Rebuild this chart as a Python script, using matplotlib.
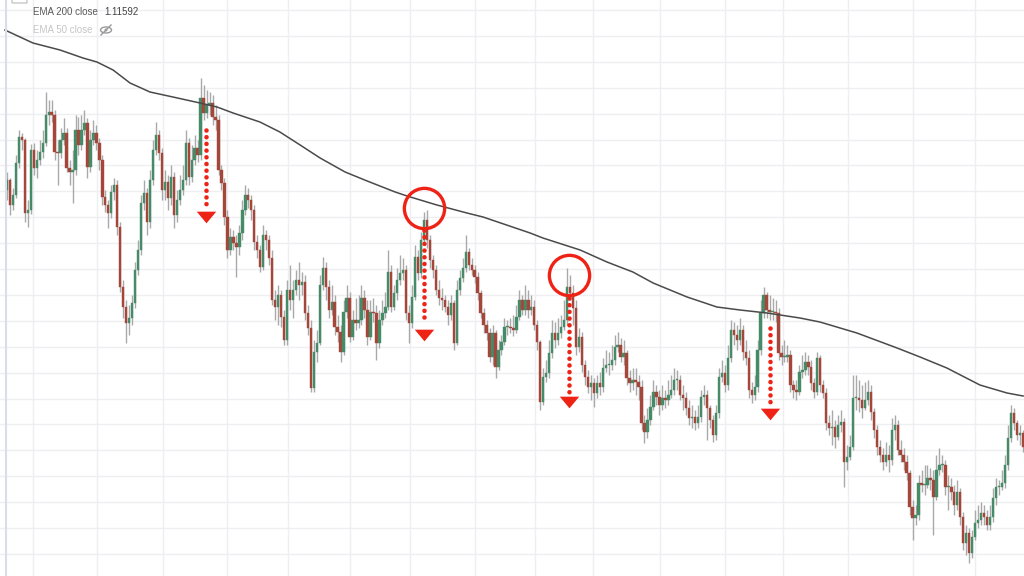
import matplotlib
matplotlib.use("Agg")
import matplotlib.pyplot as plt
from matplotlib.lines import Line2D
from matplotlib.patches import Ellipse, FancyBboxPatch
from matplotlib.transforms import IdentityTransform
import numpy as np

# daily candles, each opens at the previous close
first_open = 1.1365
closes = [
    1.1375, 1.1350, 1.1360, 1.1392, 1.1418, 1.1415, 1.1342, 1.1345, 1.1405, 1.1387,
    1.1395, 1.1403, 1.1412, 1.1440, 1.1443, 1.1440, 1.1403, 1.1402, 1.1415, 1.1422,
    1.1387, 1.1383, 1.1385, 1.1425, 1.1410, 1.1425, 1.1432, 1.1388, 1.1415, 1.1422,
    1.1412, 1.1395, 1.1358, 1.1350, 1.1342, 1.1363, 1.1370, 1.1328, 1.1268, 1.1248,
    1.1232, 1.1237, 1.1252, 1.1285, 1.1305, 1.1352, 1.1362, 1.1333, 1.1375, 1.1405,
    1.1420, 1.1402, 1.1365, 1.1373, 1.1357, 1.1378, 1.1340, 1.1355, 1.1365, 1.1375,
    1.1412, 1.1378, 1.1395, 1.1407, 1.1400, 1.1457, 1.1442, 1.1450, 1.1452, 1.1438,
    1.1435, 1.1385, 1.1372, 1.1338, 1.1305, 1.1318, 1.1312, 1.1308, 1.1322, 1.1345,
    1.1360, 1.1355, 1.1345, 1.1313, 1.1305, 1.1288, 1.1320, 1.1315, 1.1297, 1.1255,
    1.1248, 1.1260, 1.1238, 1.1215, 1.1265, 1.1255, 1.1265, 1.1275, 1.1270, 1.1273,
    1.1242, 1.1227, 1.1167, 1.1203, 1.1212, 1.1270, 1.1287, 1.1268, 1.1245, 1.1253,
    1.1228, 1.1223, 1.1203, 1.1243, 1.1257, 1.1218, 1.1235, 1.1232, 1.1235, 1.1257,
    1.1245, 1.1218, 1.1243, 1.1242, 1.1212, 1.1235, 1.1242, 1.1248, 1.1283, 1.1248,
    1.1262, 1.1275, 1.1282, 1.1285, 1.1242, 1.1232, 1.1258, 1.1298, 1.1282, 1.1315,
    1.1335, 1.1315, 1.1295, 1.1285, 1.1265, 1.1257, 1.1255, 1.1248, 1.1240, 1.1252,
    1.1212, 1.1265, 1.1277, 1.1287, 1.1303, 1.1290, 1.1285, 1.1278, 1.1262, 1.1242,
    1.1230, 1.1222, 1.1198, 1.1222, 1.1188, 1.1205, 1.1213, 1.1228, 1.1228, 1.1227,
    1.1225, 1.1238, 1.1255, 1.1245, 1.1255, 1.1245, 1.1248, 1.1230, 1.1213, 1.1153,
    1.1178, 1.1182, 1.1202, 1.1222, 1.1215, 1.1222, 1.1228, 1.1235, 1.1268, 1.1262,
    1.1247, 1.1208, 1.1218, 1.1190, 1.1178, 1.1168, 1.1172, 1.1162, 1.1172, 1.1168,
    1.1187, 1.1190, 1.1190, 1.1195, 1.1208, 1.1210, 1.1198, 1.1202, 1.1177, 1.1172,
    1.1175, 1.1173, 1.1168, 1.1132, 1.1123, 1.1135, 1.1148, 1.1163, 1.1158, 1.1150,
    1.1157, 1.1155, 1.1160, 1.1165, 1.1175, 1.1175, 1.1160, 1.1157, 1.1147, 1.1137,
    1.1138, 1.1132, 1.1138, 1.1158, 1.1160, 1.1147, 1.1135, 1.1120, 1.1142, 1.1178,
    1.1182, 1.1170, 1.1197, 1.1225, 1.1220, 1.1215, 1.1225, 1.1203, 1.1197, 1.1165,
    1.1160, 1.1168, 1.1205, 1.1242, 1.1260, 1.1245, 1.1243, 1.1243, 1.1242, 1.1202,
    1.1198, 1.1198, 1.1200, 1.1170, 1.1165, 1.1163, 1.1183, 1.1185, 1.1193, 1.1188,
    1.1172, 1.1163, 1.1197, 1.1170, 1.1162, 1.1132, 1.1127, 1.1128, 1.1118, 1.1130,
    1.1133, 1.1093, 1.1098, 1.1108, 1.1157, 1.1157, 1.1155, 1.1147, 1.1155, 1.1163,
    1.1143, 1.1125, 1.1108, 1.1100, 1.1093, 1.1100, 1.1095, 1.1125, 1.1130, 1.1105,
    1.1100, 1.1093, 1.1082, 1.1048, 1.1037, 1.1040, 1.1072, 1.1070, 1.1070, 1.1077,
    1.1075, 1.1058, 1.1085, 1.1090, 1.1090, 1.1068, 1.1068, 1.1063, 1.1050, 1.1063,
    1.1038, 1.1012, 1.1022, 1.1002, 1.1018, 1.1032, 1.1035, 1.1042, 1.1038, 1.1030,
    1.1038, 1.1057, 1.1068, 1.1068, 1.1072, 1.1090, 1.1117, 1.1142, 1.1132, 1.1120,
    1.1122, 1.1108,
]
highs = [
    1.1383, 1.1377, 1.1367, 1.1400, 1.1425, 1.1422, 1.1417, 1.1355, 1.1411, 1.1412,
    1.1405, 1.1415, 1.1425, 1.1463, 1.1455, 1.1455, 1.1445, 1.1415, 1.1427, 1.1437,
    1.1427, 1.1395, 1.1405, 1.1440, 1.1438, 1.1440, 1.1445, 1.1437, 1.1425, 1.1435,
    1.1430, 1.1417, 1.1400, 1.1365, 1.1355, 1.1370, 1.1377, 1.1375, 1.1333, 1.1275,
    1.1255, 1.1250, 1.1260, 1.1293, 1.1315, 1.1360, 1.1375, 1.1367, 1.1385, 1.1415,
    1.1433, 1.1425, 1.1407, 1.1385, 1.1380, 1.1390, 1.1383, 1.1365, 1.1380, 1.1390,
    1.1425, 1.1417, 1.1410, 1.1420, 1.1415, 1.1477, 1.1470, 1.1465, 1.1463, 1.1460,
    1.1450, 1.1440, 1.1390, 1.1377, 1.1345, 1.1327, 1.1325, 1.1320, 1.1330, 1.1355,
    1.1370, 1.1367, 1.1360, 1.1350, 1.1320, 1.1310, 1.1330, 1.1325, 1.1320, 1.1305,
    1.1265, 1.1270, 1.1265, 1.1245, 1.1275, 1.1290, 1.1275, 1.1285, 1.1293, 1.1283,
    1.1280, 1.1250, 1.1235, 1.1215, 1.1225, 1.1280, 1.1298, 1.1293, 1.1275, 1.1270,
    1.1260, 1.1240, 1.1230, 1.1255, 1.1270, 1.1263, 1.1245, 1.1257, 1.1260, 1.1270,
    1.1265, 1.1255, 1.1255, 1.1257, 1.1250, 1.1245, 1.1255, 1.1263, 1.1305, 1.1290,
    1.1270, 1.1287, 1.1300, 1.1297, 1.1290, 1.1250, 1.1270, 1.1310, 1.1305, 1.1323,
    1.1343, 1.1345, 1.1320, 1.1300, 1.1290, 1.1275, 1.1267, 1.1260, 1.1255, 1.1260,
    1.1255, 1.1275, 1.1285, 1.1297, 1.1320, 1.1307, 1.1297, 1.1290, 1.1283, 1.1265,
    1.1247, 1.1235, 1.1227, 1.1230, 1.1225, 1.1215, 1.1220, 1.1237, 1.1235, 1.1237,
    1.1240, 1.1250, 1.1265, 1.1260, 1.1270, 1.1265, 1.1260, 1.1255, 1.1235, 1.1215,
    1.1187, 1.1195, 1.1215, 1.1235, 1.1233, 1.1237, 1.1240, 1.1255, 1.1287, 1.1280,
    1.1270, 1.1255, 1.1227, 1.1223, 1.1195, 1.1185, 1.1180, 1.1177, 1.1180, 1.1183,
    1.1197, 1.1205, 1.1203, 1.1210, 1.1220, 1.1223, 1.1217, 1.1215, 1.1205, 1.1185,
    1.1187, 1.1187, 1.1180, 1.1175, 1.1140, 1.1147, 1.1160, 1.1175, 1.1170, 1.1165,
    1.1170, 1.1165, 1.1175, 1.1180, 1.1187, 1.1185, 1.1180, 1.1170, 1.1163, 1.1155,
    1.1150, 1.1145, 1.1150, 1.1165, 1.1170, 1.1165, 1.1150, 1.1140, 1.1150, 1.1187,
    1.1195, 1.1190, 1.1210, 1.1235, 1.1233, 1.1230, 1.1237, 1.1230, 1.1215, 1.1205,
    1.1173, 1.1180, 1.1215, 1.1255, 1.1268, 1.1263, 1.1260, 1.1257, 1.1255, 1.1247,
    1.1210, 1.1215, 1.1210, 1.1205, 1.1175, 1.1175, 1.1190, 1.1200, 1.1203, 1.1200,
    1.1195, 1.1177, 1.1203, 1.1200, 1.1175, 1.1167, 1.1140, 1.1145, 1.1135, 1.1140,
    1.1145, 1.1137, 1.1110, 1.1120, 1.1180, 1.1180, 1.1175, 1.1170, 1.1173, 1.1175,
    1.1170, 1.1147, 1.1130, 1.1115, 1.1107, 1.1113, 1.1110, 1.1137, 1.1140, 1.1135,
    1.1115, 1.1107, 1.1100, 1.1085, 1.1055, 1.1050, 1.1080, 1.1085, 1.1090, 1.1090,
    1.1087, 1.1085, 1.1100, 1.1107, 1.1100, 1.1095, 1.1080, 1.1077, 1.1070, 1.1075,
    1.1067, 1.1043, 1.1030, 1.1027, 1.1025, 1.1045, 1.1050, 1.1053, 1.1050, 1.1045,
    1.1050, 1.1067, 1.1077, 1.1075, 1.1085, 1.1100, 1.1130, 1.1150, 1.1147, 1.1135,
    1.1130, 1.1125,
]
lows = [
    1.1355, 1.1340, 1.1345, 1.1357, 1.1387, 1.1405, 1.1333, 1.1328, 1.1341, 1.1380,
    1.1377, 1.1390, 1.1397, 1.1409, 1.1430, 1.1433, 1.1395, 1.1370, 1.1397, 1.1410,
    1.1383, 1.1370, 1.1352, 1.1380, 1.1400, 1.1405, 1.1420, 1.1377, 1.1383, 1.1410,
    1.1405, 1.1385, 1.1350, 1.1343, 1.1327, 1.1337, 1.1355, 1.1320, 1.1263, 1.1237,
    1.1212, 1.1220, 1.1230, 1.1247, 1.1280, 1.1300, 1.1345, 1.1320, 1.1327, 1.1370,
    1.1400, 1.1395, 1.1355, 1.1355, 1.1345, 1.1350, 1.1327, 1.1333, 1.1350, 1.1360,
    1.1370, 1.1370, 1.1373, 1.1390, 1.1393, 1.1395, 1.1435, 1.1437, 1.1440, 1.1430,
    1.1425, 1.1380, 1.1365, 1.1330, 1.1297, 1.1300, 1.1305, 1.1278, 1.1300, 1.1315,
    1.1340, 1.1347, 1.1335, 1.1305, 1.1297, 1.1283, 1.1285, 1.1305, 1.1290, 1.1250,
    1.1235, 1.1230, 1.1228, 1.1210, 1.1210, 1.1245, 1.1237, 1.1260, 1.1255, 1.1260,
    1.1235, 1.1220, 1.1163, 1.1163, 1.1193, 1.1210, 1.1265, 1.1255, 1.1237, 1.1240,
    1.1220, 1.1213, 1.1193, 1.1200, 1.1237, 1.1213, 1.1215, 1.1225, 1.1227, 1.1230,
    1.1237, 1.1210, 1.1215, 1.1233, 1.1195, 1.1207, 1.1230, 1.1237, 1.1245, 1.1243,
    1.1245, 1.1255, 1.1270, 1.1275, 1.1235, 1.1212, 1.1227, 1.1255, 1.1275, 1.1277,
    1.1310, 1.1307, 1.1287, 1.1277, 1.1260, 1.1250, 1.1245, 1.1243, 1.1230, 1.1235,
    1.1205, 1.1210, 1.1260, 1.1273, 1.1283, 1.1285, 1.1280, 1.1272, 1.1255, 1.1237,
    1.1222, 1.1215, 1.1193, 1.1190, 1.1177, 1.1185, 1.1200, 1.1210, 1.1220, 1.1222,
    1.1219, 1.1222, 1.1235, 1.1240, 1.1240, 1.1237, 1.1240, 1.1225, 1.1205, 1.1145,
    1.1150, 1.1173, 1.1177, 1.1197, 1.1207, 1.1210, 1.1217, 1.1225, 1.1230, 1.1255,
    1.1230, 1.1200, 1.1203, 1.1183, 1.1170, 1.1162, 1.1155, 1.1148, 1.1157, 1.1160,
    1.1163, 1.1183, 1.1180, 1.1185, 1.1190, 1.1203, 1.1193, 1.1190, 1.1170, 1.1163,
    1.1165, 1.1160, 1.1155, 1.1125, 1.1112, 1.1117, 1.1130, 1.1145, 1.1150, 1.1140,
    1.1145, 1.1147, 1.1150, 1.1157, 1.1160, 1.1165, 1.1155, 1.1145, 1.1140, 1.1130,
    1.1127, 1.1125, 1.1127, 1.1133, 1.1150, 1.1115, 1.1127, 1.1113, 1.1115, 1.1137,
    1.1173, 1.1163, 1.1165, 1.1193, 1.1210, 1.1205, 1.1210, 1.1195, 1.1190, 1.1157,
    1.1152, 1.1155, 1.1163, 1.1200, 1.1237, 1.1237, 1.1235, 1.1235, 1.1233, 1.1195,
    1.1190, 1.1193, 1.1193, 1.1163, 1.1157, 1.1155, 1.1160, 1.1177, 1.1180, 1.1180,
    1.1165, 1.1157, 1.1160, 1.1163, 1.1157, 1.1125, 1.1120, 1.1110, 1.1107, 1.1115,
    1.1123, 1.1068, 1.1085, 1.1095, 1.1105, 1.1145, 1.1143, 1.1137, 1.1145, 1.1150,
    1.1135, 1.1117, 1.1100, 1.1093, 1.1085, 1.1089, 1.1083, 1.1090, 1.1115, 1.1100,
    1.1093, 1.1085, 1.1075, 1.1040, 1.1015, 1.1030, 1.1035, 1.1063, 1.1060, 1.1067,
    1.1065, 1.1020, 1.1055, 1.1080, 1.1083, 1.1060, 1.1045, 1.1055, 1.1040, 1.1045,
    1.1030, 1.1005, 1.1000, 1.0992, 1.0997, 1.1015, 1.1027, 1.1030, 1.1030, 1.1025,
    1.1025, 1.1033, 1.1050, 1.1060, 1.1065, 1.1067, 1.1085, 1.1113, 1.1125, 1.1115,
    1.1110, 1.1103,
]

# EMA 200 (candle index, value)
ema_idx = [-0.7, 8.7, 17.8, 25.5, 30.2, 35.6, 41.3, 48.0, 55.7, 64.8, 70.5, 75.9,
           84.9, 91.6, 98.4, 105.1, 113.5, 120.9, 130.3, 134.3, 144.3, 154.4, 159.8,
           175.6, 179.9, 192.4, 201.4, 210.1, 216.9, 228.3, 238.3, 246.1, 255.1,
           266.2, 272.9, 285.3, 298.8, 306.5, 315.5, 326.6, 335.7, 341.1]
ema_val = [1.1525, 1.1512, 1.1505, 1.1497, 1.1493, 1.1485, 1.1472, 1.1463, 1.1458,
           1.1452, 1.1448, 1.1442, 1.1433, 1.1423, 1.1410, 1.1397, 1.1383, 1.1374,
           1.1363, 1.1359, 1.1350, 1.1342, 1.1338, 1.1322, 1.1317, 1.1305, 1.1293,
           1.1283, 1.1272, 1.1258, 1.1248, 1.1245, 1.1242, 1.1237, 1.1233, 1.1222,
           1.1207, 1.1198, 1.1187, 1.1170, 1.1162, 1.1159]

# rejection arrows and circles
arrow_idx = [66.8, 140.0, 188.7, 256.1]
arrow_top = [1.1425, 1.1325, 1.1257, 1.1227]
arrow_end = [1.1348, 1.1232, 1.1163, 1.1152]
arrow_head = [1.1338, 1.1220, 1.1153, 1.1141]
circle_idx = [140.0, 188.7]
circle_val = [1.1347, 1.1280]

vgrid_idx = [8.7, 30.2, 52.4, 73.9, 94.3, 115.1, 135.3, 157.1, 177.2, 196.7,
             219.2, 241.0, 260.5, 282.3, 304.1, 324.9]

opens = [first_open] + closes[:-1]
x = np.arange(len(closes))
o = np.array(opens)
c = np.array(closes)

GREEN = '#468b68'
RED = '#a5463a'
MARK = '#ee2315'

fig = plt.figure(figsize=(10.24, 5.76), dpi=100)
ax = fig.add_axes([0, 0, 1, 1])
ax.set_xlim(-2.35, 341.4)
ax.set_ylim(1.0979, 1.1555)
ax.axis('off')

# grid
for yv in np.arange(1.1545, 1.0979, -0.00259):
    ax.axhline(yv, color='#eeeff2', lw=1, zorder=0)
for xv in vgrid_idx:
    ax.axvline(xv, color='#eeeff2', lw=1, zorder=0)

# candles
colors = [GREEN if cc >= oo else RED for oo, cc in zip(o, c)]
ax.vlines(x, lows, highs, color='#a9a9a9', lw=1, zorder=2)
body_bottom = np.minimum(o, c)
body_h = np.maximum(np.abs(c - o), 0.00008)
ax.bar(x, body_h, bottom=body_bottom, width=0.8, color=colors,
       edgecolor=colors, linewidth=0.3, zorder=3)

# EMA 200
ax.plot(ema_idx, ema_val, color='#4a4a4a', lw=1.1, zorder=4)

# arrows
tri = [(-1, 0.6), (1, 0.6), (0, -0.6)]
for xi, t, e, h in zip(arrow_idx, arrow_top, arrow_end, arrow_head):
    ax.plot([xi, xi], [t, e], color=MARK, lw=3.3, linestyle=(0, (0.01, 1.45)),
            dash_capstyle='round', zorder=5)
    ax.plot(xi, h, marker=tri, ms=14, color=MARK, mew=0, zorder=5)

ax.plot(circle_idx, circle_val, 'o', ms=29, mfc='none', mec=MARK, mew=2.4, zorder=6)

# legend texts
font = ['Liberation Sans', 'DejaVu Sans']
fig.text(33 / 1024, 1 - 12 / 576, 'EMA 200 close', fontsize=7, color='#5a5a5a',
         va='center', family=font)
fig.text(104 / 1024, 1 - 12 / 576, '1.11592', fontsize=7, color='#444444',
         va='center', family=font)
fig.text(33 / 1024, 1 - 30 / 576, 'EMA 50 close', fontsize=7, color='#c6c6c6',
         va='center', family=font)

# eye-slash icon
fig.add_artist(Ellipse((106, 576 - 30), 11, 6, fill=False, ec='#9a9a9a', lw=1,
                       transform=IdentityTransform()))
fig.add_artist(Ellipse((106, 576 - 30), 3, 3, fill=True, fc='#9a9a9a', ec='none',
                       transform=IdentityTransform()))
fig.add_artist(Line2D([101, 111], [576 - 35, 576 - 25], color='#9a9a9a', lw=1,
                      transform=IdentityTransform()))

# left edge and corner button
fig.add_artist(Line2D([5.5 / 1024] * 2, [0, 1], color='#d9dde8', lw=1.5))
fig.add_artist(FancyBboxPatch((12 / 1024, 1 - 3 / 576), 15 / 1024, 8 / 576,
                              boxstyle='round,pad=0', fill=False, ec='#c8c8c8', lw=1))

fig.savefig('out.png', dpi=100, facecolor='white')
